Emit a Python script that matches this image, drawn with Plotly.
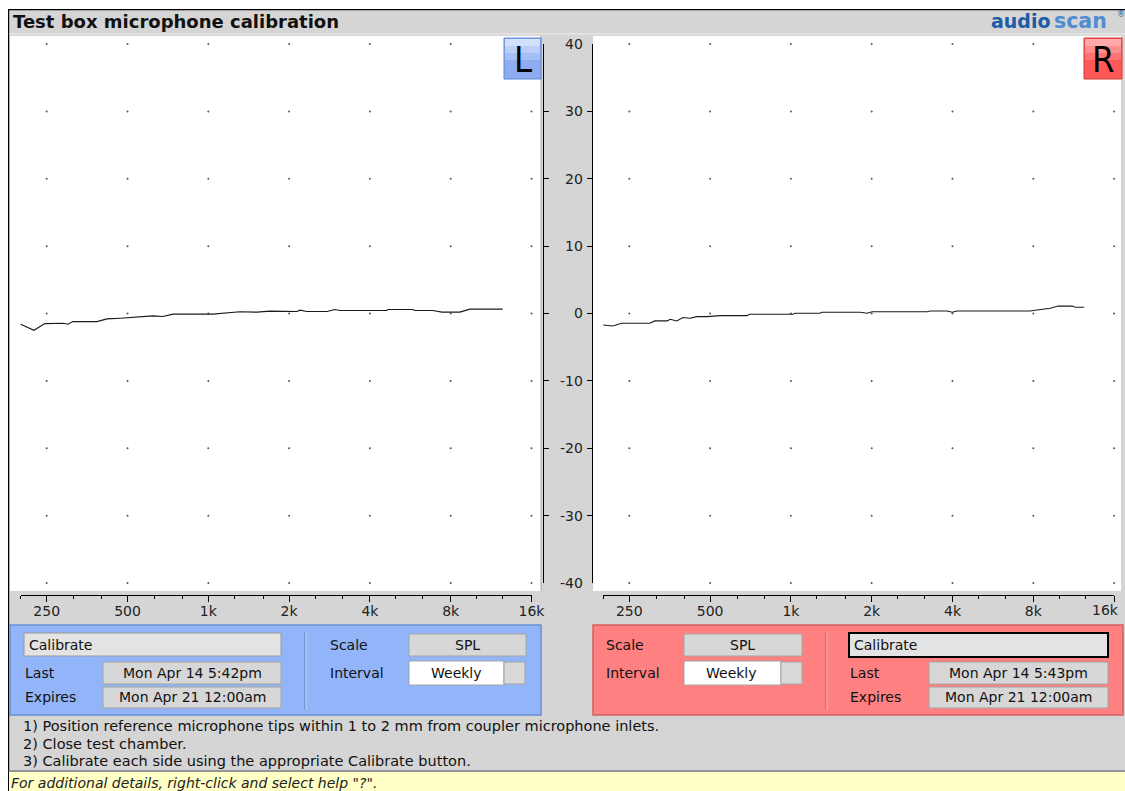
import math
import plotly.graph_objects as go

W, H = 1125, 791

# ---------------- data ----------------
left_freq = [200, 224, 246, 288, 300, 313, 385, 419, 469, 571, 622, 678, 739, 1040, 1134, 1312, 1519, 1698,
             2140, 2195, 2330, 2767, 2963, 3093, 4627, 4667, 5783, 5885, 6865, 7416, 8651, 9190, 9428, 12500]
left_db = [-1.6, -2.5, -1.5, -1.45, -1.6, -1.2, -1.2, -0.8, -0.7, -0.45, -0.35, -0.45, -0.1, -0.1, 0.05, 0.25,
           0.2, 0.35, 0.3, 0.5, 0.3, 0.3, 0.6, 0.45, 0.45, 0.6, 0.6, 0.45, 0.45, 0.2, 0.2, 0.5, 0.65, 0.65]

right_freq = [200, 217, 234, 298, 311, 346, 355, 376, 396, 421, 447, 487, 545, 687, 700, 1018, 1036, 1284, 1306,
              1810, 1923, 2007, 3217, 3301, 3818, 3991, 4162, 7780, 8260, 9245, 9907, 11165, 11460, 12380]
right_db = [-1.7, -1.85, -1.45, -1.45, -1.1, -1.1, -0.85, -1.1, -0.6, -0.7, -0.47, -0.47, -0.32, -0.32, -0.12,
            -0.12, 0.03, 0.03, 0.18, 0.18, 0.03, 0.27, 0.27, 0.37, 0.37, 0.18, 0.37, 0.37, 0.52, 0.77, 1.1, 1.1,
            0.92, 0.92]

major_freqs = [250, 500, 1000, 2000, 4000, 8000, 16000]
major_labels = ["250", "500", "1k", "2k", "4k", "8k", "16k"]
# on the right panel the last label is pulled inside the window (drawn separately below)
major_labels_r = ["250", "500", "1k", "2k", "4k", "8k", ""]
minor_freqs = [200, 315, 400, 630, 800, 1250, 1600, 2500, 3150, 5000, 6300, 10000, 12500]
db_ticks = [-40, -30, -20, -10, 0, 10, 20, 30, 40]
db_labels = ["-40", "-30", "-20", "-10", "0", "10", "20", "30", "40"]


# ---------------- geometry helpers (page pixels -> paper) ----------------
def X(p):
    return p / W


def Y(p):
    return 1 - p / H


OCT = 80.8                 # pixels per octave
L250, R250 = 46.7, 629.3   # page x of 250 Hz in each panel
PX_DB = 539 / 80.0         # pixels per dB
Y0 = 313.5                 # page y of 0 dB


def f_at(px, ref):
    return 250 * 2 ** ((px - ref) / OCT)


def px_of(f, ref):
    return ref + OCT * math.log2(f / 250)


PLOT_T, PLOT_B = 36, 591
yr = [-(PLOT_B - Y0) / PX_DB, (Y0 - PLOT_T) / PX_DB]

GRAY = "#d5d5d5"
FONT = "DejaVu Sans"
FS = 14

fig = go.Figure()

# grid dots + curves
for xa, ya, fr, db in [("x", "y", left_freq, left_db), ("x2", "y2", right_freq, right_db)]:
    gx = [f for d in db_ticks for f in major_freqs]
    gy = [d for d in db_ticks for f in major_freqs]
    fig.add_trace(go.Scatter(x=gx, y=gy, mode="markers", xaxis=xa, yaxis=ya,
                             marker=dict(size=2, color="#555"), hoverinfo="skip", showlegend=False))
    fig.add_trace(go.Scatter(x=fr, y=db, mode="lines", xaxis=xa, yaxis=ya,
                             line=dict(color="#1a1a1a", width=1.1), showlegend=False))

# dummy traces to materialise decoration axes
fig.add_trace(go.Scatter(x=[0.5], y=[0], xaxis="x3", yaxis="y3", mode="markers",
                         marker=dict(opacity=0), hoverinfo="skip", showlegend=False))
fig.add_trace(go.Scatter(x=[1000], y=[0], xaxis="x4", yaxis="y4", mode="markers",
                         marker=dict(opacity=0), hoverinfo="skip", showlegend=False))
fig.add_trace(go.Scatter(x=[1000], y=[0], xaxis="x5", yaxis="y5", mode="markers",
                         marker=dict(opacity=0), hoverinfo="skip", showlegend=False))

tickfont = dict(family=FONT, size=FS, color="#222")

layout = dict(
    width=W, height=H, margin=dict(l=0, r=0, t=0, b=0, pad=0, autoexpand=False), autosize=False,
    paper_bgcolor="white", plot_bgcolor="rgba(0,0,0,0)",
    showlegend=False,
    font=dict(family=FONT, size=FS, color="#111"),
    xaxis=dict(domain=[X(10), X(540)], type="log", anchor="y", automargin=False,
               range=[math.log10(f_at(10, L250)), math.log10(f_at(540, L250))], visible=False),
    yaxis=dict(domain=[Y(PLOT_B), Y(PLOT_T)], range=yr, anchor="x", visible=False, automargin=False),
    xaxis2=dict(domain=[X(593), X(1121)], type="log", anchor="y2", automargin=False,
                range=[math.log10(f_at(593, R250)), math.log10(f_at(1121, R250))], visible=False),
    yaxis2=dict(domain=[Y(PLOT_B), Y(PLOT_T)], range=yr, anchor="x2", visible=False, automargin=False),
    xaxis3=dict(domain=[X(544), X(592)], range=[0, 1], anchor="y3", visible=False, automargin=False),
    yaxis3=dict(domain=[Y(Y0 + 40 * PX_DB), Y(Y0 - 40 * PX_DB)], range=[-40, 40], anchor="x3",
                side="right", showline=True, linecolor="black", linewidth=1, mirror="ticks",
                ticks="inside", ticklen=5, tickcolor="black", tickvals=db_ticks, ticktext=db_labels,
                ticklabelposition="inside", ticklabeloverflow="allow", ticklabelstandoff=4,
                tickfont=tickfont, showgrid=False, zeroline=False, automargin=False),
)
for i, ref, labels in [(4, L250, major_labels), (5, R250, major_labels_r)]:
    layout[f"xaxis{i}"] = dict(domain=[X(px_of(200, ref)), X(px_of(16000, ref))], type="log",
                               range=[math.log10(200), math.log10(16000)], anchor="free",
                               position=Y(595), side="bottom", showline=True, linecolor="black",
                               linewidth=1, ticks="outside", ticklen=6, tickcolor="black",
                               tickvals=major_freqs, ticktext=labels, tickfont=tickfont,
                               ticklabelstandoff=-3, ticklabeloverflow="allow", automargin=False,
                               showgrid=False, zeroline=False,
                               minor=dict(tickvals=minor_freqs, ticks="outside", ticklen=3,
                                          tickcolor="black", showgrid=False))
    layout[f"yaxis{i}"] = dict(domain=[0, 0.02], anchor=f"x{i}", visible=False, automargin=False)

fig.update_layout(**layout)

shapes = []


def rect(x0, y0, x1, y1, fill, line="rgba(0,0,0,0)", lw=1, layer="below"):
    shapes.append(dict(type="rect", xref="paper", yref="paper", x0=X(x0), x1=X(x1), y0=Y(y1), y1=Y(y0),
                       fillcolor=fill, line=dict(color=line, width=lw), layer=layer))


def line(x0, y0, x1, y1, color, lw=1, layer="below"):
    shapes.append(dict(type="line", xref="paper", yref="paper", x0=X(x0), x1=X(x1), y0=Y(y0), y1=Y(y1),
                       line=dict(color=color, width=lw), layer=layer))


# window frame and title bar
rect(8, 9, 1125, 791, GRAY)
line(8.6, 9, 8.6, 791, "black", 1.2)
line(8, 9.6, 1125, 9.6, "black", 1.2)
line(9, 34, 1125, 34, "#eeeeee")
# plot areas
rect(10, PLOT_T, 540, PLOT_B, "white")
rect(593, PLOT_T, 1121, PLOT_B, "white")
line(541.5, PLOT_T, 541.5, PLOT_B, "#bdbdbd")

# L / R badges
rect(504, 38, 541, 79, "#8eacef", "#5d86dc", 1, "above")
rect(505, 39, 540, 46, "#d3e0fc", "rgba(0,0,0,0)", 0, "above")
rect(505, 46, 540, 53, "#bccff9", "rgba(0,0,0,0)", 0, "above")
rect(505, 53, 540, 60, "#a5bef5", "rgba(0,0,0,0)", 0, "above")
rect(1084, 38, 1122, 79, "#ff5858", "#cf3a3a", 1, "above")
rect(1085, 39, 1121, 46, "#ffaaaa", "rgba(0,0,0,0)", 0, "above")
rect(1085, 46, 1121, 53, "#ff8f8f", "rgba(0,0,0,0)", 0, "above")
rect(1085, 53, 1121, 60, "#ff7373", "rgba(0,0,0,0)", 0, "above")

# control panels
rect(10, 625, 541, 715, "#92b5f9", "#6a8fd4", 1.5)
rect(593, 625, 1123, 715, "#ff8080", "#d45e5e", 1.5)
line(305, 632, 305, 710, "#5b7bb8")
line(306, 632, 306, 710, "#c4d6fc")
line(826, 632, 826, 710, "#b85a5a")
line(827, 632, 827, 710, "#ffb0b0")

BOX = "#d7d7d7"
BOXL = "#a3a3a3"
# blue panel widgets
rect(24, 633, 281, 656, "#e3e3e3", "#9a9a9a")
rect(103, 662, 281, 684, BOX, BOXL)
rect(103, 687, 281, 708, BOX, BOXL)
rect(409, 634, 526, 656, BOX, BOXL)
rect(409, 661, 504, 685, "white", BOXL)
rect(504, 662, 525, 684, "#d9d9d9", BOXL)
# red panel widgets
rect(684, 634, 802, 656, BOX, BOXL)
rect(684, 661, 781, 685, "white", BOXL)
rect(781, 662, 802, 684, "#d9d9d9", BOXL)
rect(849, 633, 1108, 657, "#e3e3e3", "black", 2)
rect(929, 662, 1108, 684, BOX, BOXL)
rect(929, 687, 1108, 708, BOX, BOXL)

# bottom instruction / help bars
line(8, 771, 1125, 771, "#555555", 1)
rect(9, 772, 1125, 791, "#ffffc6")

fig.update_layout(shapes=shapes)

ann = []


def text(x, y, s, size=FS, anchor="left", color="#111", family=FONT):
    ann.append(dict(xref="paper", yref="paper", x=X(x), y=Y(y), text=s, showarrow=False,
                    xanchor=anchor, yanchor="middle", font=dict(family=family, size=size, color=color)))


text(11, 21, "<b>Test box microphone calibration</b>", size=18, color="#111")
text(1053, 21, "<b>audio</b>", size=19, anchor="right", color="#1b5ca6")
text(1052, 21, "<b>scan</b>", size=20.5, anchor="left", color="#4f8cd2")
text(1115, 15, "®", size=8, anchor="left", color="#1b5ca6")
text(522.5, 60, "L", size=36, anchor="center", color="black", family="DejaVu Sans Condensed, DejaVu Sans")
text(1103, 60, "R", size=36, anchor="center", color="black", family="DejaVu Sans Condensed, DejaVu Sans")

# last frequency label of the right panel, kept inside the window
text(1121, 610, major_labels[-1], size=FS, anchor="right", color="#222")

text(27, 645, "Calibrate")
text(23, 673, "Last")
text(23, 697, "Expires")
text(192, 673, "Mon Apr 14 5:42pm", anchor="center")
text(192, 697, "Mon Apr 21 12:00am", anchor="center")
text(328, 645, "Scale")
text(328, 673, "Interval")
text(467, 645, "SPL", anchor="center")
text(456, 673, "Weekly", anchor="center")

text(604, 645, "Scale")
text(604, 673, "Interval")
text(743, 645, "SPL", anchor="center")
text(732, 673, "Weekly", anchor="center")
text(852, 645, "Calibrate")
text(848, 673, "Last")
text(848, 697, "Expires")
text(1018, 673, "Mon Apr 14 5:43pm", anchor="center")
text(1018, 697, "Mon Apr 21 12:00am", anchor="center")

text(21, 726, "1) Position reference microphone tips within 1 to 2 mm from coupler microphone inlets.", size=14.5)
text(21, 744, "2) Close test chamber.", size=14.5)
text(21, 761, "3) Calibrate each side using the appropriate Calibrate button.", size=14.5)
text(9, 783, "<i>For additional details, right-click and select help \"?\".</i>", size=14, color="#222")

fig.update_layout(annotations=ann)

fig.write_html("out.html", config={"displayModeBar": False},
               post_script="document.body.style.margin='0';document.body.style.overflow='hidden';")
